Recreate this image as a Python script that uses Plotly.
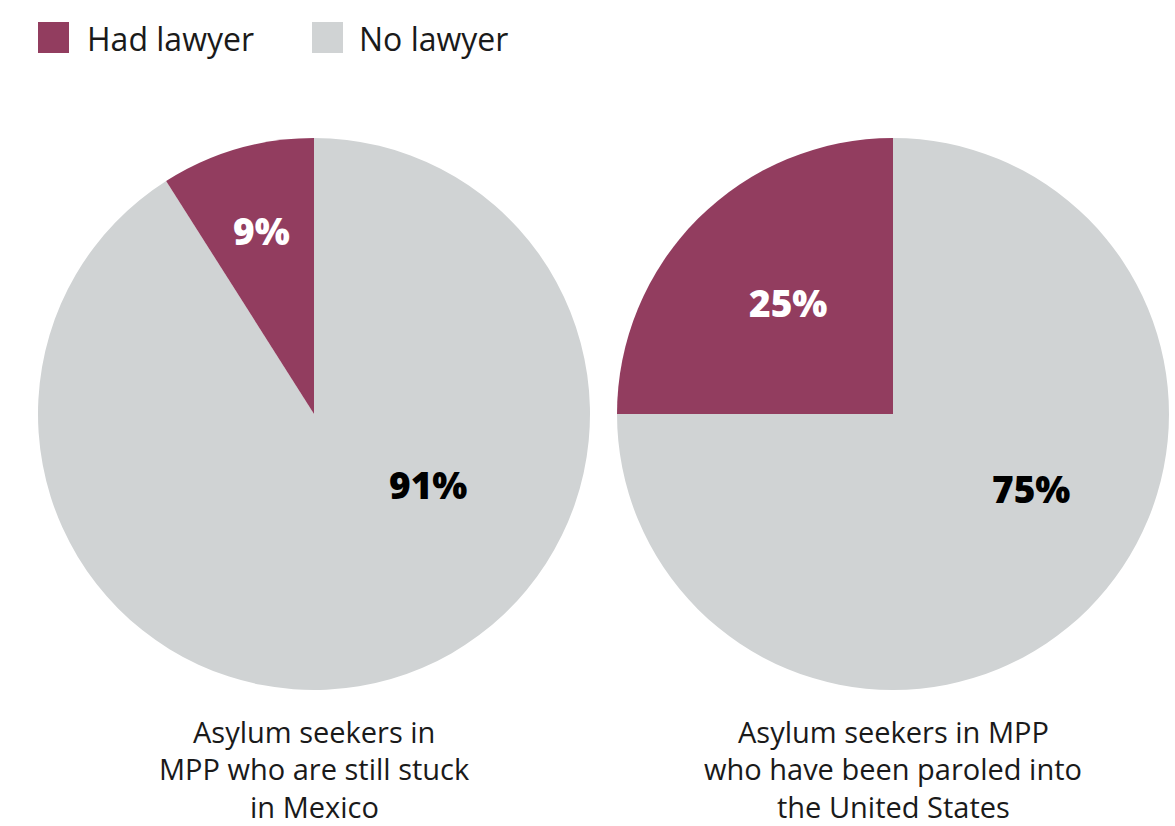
import plotly.graph_objects as go

# Share of asylum seekers in MPP with legal representation
categories = ["Had lawyer", "No lawyer"]
stuck_in_mexico = [9, 91]
paroled_into_us = [25, 75]
captions = [
    "Asylum seekers in<br>MPP who are still stuck<br>in Mexico",
    "Asylum seekers in MPP<br>who have been paroled into<br>the United States",
]

MAROON = "#923d5f"
GRAY = "#d0d3d4"
COLORS = [MAROON, GRAY]
FONT = "Open Sans"
W, H = 1175, 826


def px(x):
    return x / W


def py(y):
    return 1 - y / H


fig = go.Figure()

pies = [
    (stuck_in_mexico, [38, 590], captions[0]),
    (paroled_into_us, [617, 1169], captions[1]),
]
for values, (x0, x1), _ in pies:
    # Drawn clockwise from 12 o'clock with "No lawyer" first, so the
    # "Had lawyer" wedge ends at 12 o'clock on its left side.
    fig.add_trace(go.Pie(
        labels=categories[::-1],
        values=values[::-1],
        sort=False,
        direction="clockwise",
        rotation=0,
        marker=dict(colors=COLORS[::-1], line=dict(width=0)),
        textinfo="none",
        hoverinfo="label+percent",
        domain=dict(x=[px(x0), px(x1)], y=[py(690), py(138)]),
        showlegend=False,
    ))

# Value labels placed inside each slice
label_pos = [
    [(261, 230), (428, 484)],
    [(788, 303), (1031, 489)],
]
label_colors = ["white", "black"]
for (values, _, _), positions in zip(pies, label_pos):
    for v, (x, y), c in zip(values, positions, label_colors):
        fig.add_annotation(
            x=px(x), y=py(y), xref="paper", yref="paper",
            text=f"{v}%", showarrow=False,
            xanchor="center", yanchor="middle",
            font=dict(family=FONT, size=37, color=c, weight=800),
        )

# Captions under each pie, one annotation per line
for (_, (x0, x1), cap) in pies:
    cx = (x0 + x1) / 2
    for i, line in enumerate(cap.split("<br>")):
        fig.add_annotation(
            x=px(cx), y=py(731 + 37.5 * i), xref="paper", yref="paper",
            text=line, showarrow=False,
            xanchor="center", yanchor="middle",
            font=dict(family=FONT, size=29, color="#1a1a1a"),
        )

# Legend across the top
legend_items = [(38, 85), (312, 357)]
for name, color, (sx, tx) in zip(categories, COLORS, legend_items):
    fig.add_shape(
        type="rect", xref="paper", yref="paper",
        x0=px(sx), x1=px(sx + 31), y0=py(53), y1=py(22),
        fillcolor=color, line=dict(width=0),
    )
    fig.add_annotation(
        x=px(tx), y=py(38), xref="paper", yref="paper",
        text=name, showarrow=False, xanchor="left", yanchor="middle",
        font=dict(family=FONT, size=32, color="#1a1a1a"),
    )

fig.update_layout(
    width=W, height=H,
    margin=dict(l=0, r=0, t=0, b=0),
    paper_bgcolor="white",
    plot_bgcolor="white",
)

fig.write_html("out.html")
